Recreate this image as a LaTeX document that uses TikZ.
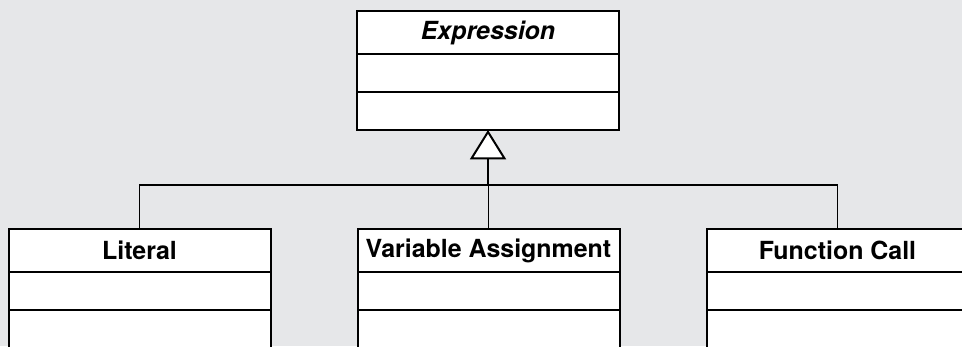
\documentclass[tikz,border=0pt]{standalone}
\usepackage{fontspec}
\setmainfont{TeX Gyre Heros}
\usetikzlibrary{arrows.meta}
\usetikzlibrary{positioning}
\definecolor{bggray}{RGB}{230,231,233}

\tikzset{
	classhead/.style={draw, fill=white, line width=1.5pt, outer sep=0pt, minimum width=196.5pt, minimum height=32.25pt, inner sep=0pt, font=\fontsize{18.7}{22}\selectfont\bfseries},
	classpart/.style={draw, fill=white, line width=1.5pt, outer sep=0pt, minimum width=196.5pt, minimum height=28.5pt, inner sep=0pt},
	generalise/.style={line width=1pt, -{Triangle[fill=white, line width=1.5pt, length=22pt, width=27pt]}},
}

\begin{document}
\begin{tikzpicture}[x=0.75pt,y=0.75pt,yscale=-1,xscale=1]
	%background, sets the size of the diagram
	\useasboundingbox (0,0) rectangle (962,346);
	\fill [bggray] (0,0) rectangle (962,346);
	\clip (0,0) rectangle (962,346);
	
	%Class: Expression
	\node (exprhead) at (488,32.5) [classhead] {\itshape Expression};
	\node (exprattr) [classpart, below=0pt of exprhead] {};
	\node (exprops) [classpart, below=0pt of exprattr] {};
	
	%Class: Literal
	\node (lithead) at (139.5,250.5) [classhead] {Literal};
	\node (litattr) [classpart, below=0pt of lithead] {};
	\node (litops) [classpart, below=0pt of litattr, minimum height=45pt] {};
	
	%Class: Variable Assignment
	\node (varhead) at (488.5,250.5) [classhead] {Variable Assignment};
	\node (varattr) [classpart, below=0pt of varhead] {};
	\node (varops) [classpart, below=0pt of varattr, minimum height=45pt] {};
	
	%Class: Function Call
	\node (funhead) at (837.5,250.5) [classhead] {Function Call};
	\node (funattr) [classpart, below=0pt of funhead] {};
	\node (funops) [classpart, below=0pt of funattr, minimum height=45pt] {};
	
	%Generalisation
	\coordinate (bus) at (488,185);
	\draw [line width=1pt] (lithead.north) |- (bus) -| (funhead.north);
	\draw [line width=1pt] (varhead.north) -- (varhead.north |- bus);
	\draw [generalise] (bus) -- (exprops.south);
\end{tikzpicture}
\end{document}
